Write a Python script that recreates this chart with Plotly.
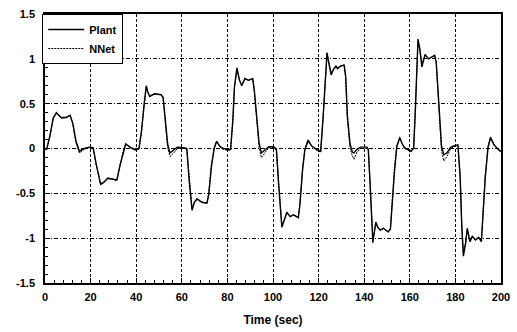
import plotly.graph_objects as go

time_s = [0, 0.7, 2.2, 3.6, 5.0, 6.0, 7.2, 9.3, 11.0, 12.2, 13.6, 15.1, 17.2, 19.4,
          21.1, 22.5, 24.4, 25.8, 27.5, 29.4, 31.5, 33.0, 34.4, 35.4, 37.3, 39.4,
          41.2, 42.3, 43.4, 44.4, 45.1, 45.9, 48.0, 50.9, 51.8, 52.8, 53.8, 54.8, 56.5, 58.0,
          61.0, 62.2, 63.2, 64.5, 65.5, 66.7, 68.8, 71.0, 71.8, 73.0, 74.2, 75.3, 76.5, 77.4, 79.6,
          81.4, 82.4, 83.1, 84.2, 85.3, 86.3, 87.7, 89.2, 91.1, 91.8, 92.9, 93.9, 94.9, 96.8, 98.2,
          100.3, 101.5, 102.5, 103.2, 103.9, 104.9, 106.1, 107.5, 109.0, 111.1, 111.8, 113.0, 114.0,
          115.4, 116.9, 119.0,
          120.9, 121.9, 123.0, 123.7, 124.5, 125.5, 126.5, 127.6, 128.3, 129.7, 131.2, 131.9, 132.6,
          133.8, 134.8, 135.5, 136.8, 138.4,
          141.2, 141.8, 142.6, 143.3, 143.8, 144.5, 145.1, 146.0, 147.0, 148.4, 150.5, 151.5, 152.3,
          153.3, 154.3, 155.6, 156.7, 157.7,
          160.6, 161.7, 162.4, 163.0, 163.6, 164.4, 165.3, 166.7, 168.2, 169.6, 170.9, 171.6, 172.8,
          173.9, 174.9, 176.3, 177.8, 179.2,
          181.1, 182.1, 182.8, 183.5, 184.5, 185.2, 186.4, 187.4, 188.8, 190.2, 191.4, 192.1, 193.1,
          194.3, 195.4, 196.9, 198.6, 199.7, 200]

plant = [0.0, -0.01, 0.15, 0.34, 0.40, 0.37, 0.34, 0.345, 0.37, 0.28, 0.08, -0.03, 0.0, 0.015,
         0.01, -0.18, -0.40, -0.38, -0.33, -0.34, -0.35, -0.18, -0.03, 0.05, 0.015, -0.01,
         0.0, 0.19, 0.48, 0.70, 0.63, 0.58, 0.61, 0.60, 0.57, 0.30, 0.05, -0.05, -0.02, 0.015,
         0.01, 0.0, -0.35, -0.69, -0.60, -0.56, -0.60, -0.61, -0.52, -0.20, 0.0, 0.08, 0.03, 0.01, -0.01,
         -0.01, 0.32, 0.69, 0.90, 0.76, 0.70, 0.78, 0.76, 0.78, 0.65, 0.32, 0.06, -0.05, -0.01, 0.02,
         0.02, -0.01, -0.41, -0.71, -0.88, -0.80, -0.71, -0.76, -0.74, -0.77, -0.63, -0.23, -0.01,
         0.09, 0.03, -0.01,
         -0.03, 0.32, 0.87, 1.07, 0.95, 0.82, 0.88, 0.92, 0.89, 0.92, 0.93, 0.80, 0.37,
         0.05, -0.04, -0.05, -0.01, 0.015,
         0.015, -0.01, -0.40, -0.85, -1.05, -0.92, -0.82, -0.88, -0.91, -0.89, -0.93, -0.90, -0.60,
         -0.25, 0.02, 0.12, 0.05, 0.01,
         -0.03, 0.01, 0.41, 0.96, 1.22, 1.11, 0.91, 1.05, 1.00, 1.02, 1.04, 0.96, 0.41,
         0.03, -0.07, -0.05, 0.01, 0.03,
         0.04, -0.32, -0.87, -1.20, -1.05, -0.89, -1.04, -0.98, -1.02, -0.99, -1.04, -0.69, -0.32,
         0.01, 0.12, 0.04, -0.01, -0.03, -0.03]

nnet = [0.0, -0.02, 0.14, 0.33, 0.39, 0.37, 0.35, 0.35, 0.37, 0.27, 0.06, -0.05, -0.01, 0.01,
        0.01, -0.19, -0.39, -0.37, -0.34, -0.34, -0.36, -0.17, -0.02, 0.05, 0.01, -0.02,
        -0.01, 0.18, 0.47, 0.68, 0.62, 0.59, 0.61, 0.60, 0.56, 0.28, 0.01, -0.09, -0.05, 0.0,
        0.0, -0.01, -0.34, -0.67, -0.60, -0.57, -0.60, -0.61, -0.50, -0.18, 0.01, 0.08, 0.03, 0.0, -0.02,
        -0.02, 0.31, 0.68, 0.88, 0.76, 0.71, 0.78, 0.76, 0.78, 0.64, 0.30, 0.01, -0.10, -0.04, 0.01,
        0.01, -0.02, -0.40, -0.70, -0.86, -0.80, -0.72, -0.76, -0.74, -0.77, -0.61, -0.21, 0.0,
        0.10, 0.03, -0.02,
        -0.04, 0.31, 0.85, 1.05, 0.96, 0.85, 0.88, 0.92, 0.90, 0.92, 0.93, 0.78, 0.33,
        0.0, -0.08, -0.12, -0.04, 0.0,
        0.0, -0.02, -0.39, -0.83, -1.02, -0.93, -0.84, -0.88, -0.91, -0.89, -0.93, -0.89, -0.58,
        -0.22, 0.03, 0.13, 0.05, 0.0,
        -0.04, 0.0, 0.40, 0.94, 1.19, 1.10, 0.95, 1.04, 1.00, 1.02, 1.04, 0.95, 0.37,
        -0.02, -0.14, -0.09, -0.01, 0.02,
        0.03, -0.31, -0.85, -1.16, -1.06, -0.91, -1.03, -0.98, -1.02, -0.99, -1.03, -0.67, -0.30,
        0.02, 0.13, 0.05, -0.01, -0.03, -0.03]

x_ticks = [0, 20, 40, 60, 80, 100, 120, 140, 160, 180, 200]
x_labels = ["0", "20", "40", "60", "80", "100", "120", "140", "160", "180", "200"]
y_ticks = [-1.5, -1, -0.5, 0, 0.5, 1, 1.5]
y_labels = ["-1.5", "-1", "-0.5", "0", "0.5", "1", "1.5"]

FONT = "Liberation Sans"

fig = go.Figure()
fig.add_trace(go.Scatter(x=time_s, y=plant, mode="lines", name="Plant",
                         line=dict(color="black", width=1.4)))
fig.add_trace(go.Scatter(x=time_s, y=nnet, mode="lines", name="NNet",
                         line=dict(color="black", width=1, dash="2px,1px")))

fig.update_layout(
    width=517, height=332,
    margin=dict(l=45, r=7, t=14, b=45),
    paper_bgcolor="white", plot_bgcolor="white",
    font=dict(family=FONT, color="black", size=11, weight="bold"),
    showlegend=True,
    legend=dict(x=-0.006, y=1, xanchor="left", yanchor="top",
                bordercolor="black", borderwidth=1, bgcolor="white",
                font=dict(family=FONT, size=11, weight="bold"),
                tracegroupgap=0, itemwidth=36),
)

fig.update_xaxes(
    range=[0, 200], tickvals=x_ticks, ticktext=x_labels,
    showline=True, linecolor="black", linewidth=1.5, mirror=True,
    ticks="inside", ticklen=5, tickcolor="black",
    minor=dict(dtick=4, tick0=0, ticks="inside", ticklen=3, tickcolor="black", showgrid=False),
    showgrid=True, gridcolor="black", gridwidth=1, griddash="3px,2px",
    zeroline=False, ticklabeloverflow="allow", ticklabelstandoff=3,
    tickfont=dict(family=FONT, size=11, weight="bold"),
    title=dict(text="Time (sec)", font=dict(family=FONT, size=12, weight="bold"), standoff=14),
)
fig.update_yaxes(
    range=[-1.5, 1.5], tickvals=y_ticks, ticktext=y_labels,
    showline=True, linecolor="black", linewidth=1.5, mirror=True,
    ticks="inside", ticklen=5, tickcolor="black",
    minor=dict(dtick=0.1, tick0=0, ticks="inside", ticklen=3, tickcolor="black", showgrid=False),
    showgrid=True, gridcolor="black", gridwidth=1, griddash="4px,2px,1px,2px",
    zeroline=False,
    tickfont=dict(family=FONT, size=11, weight="bold"),
    ticklabelstandoff=6,
)

fig.write_html("out.html")
